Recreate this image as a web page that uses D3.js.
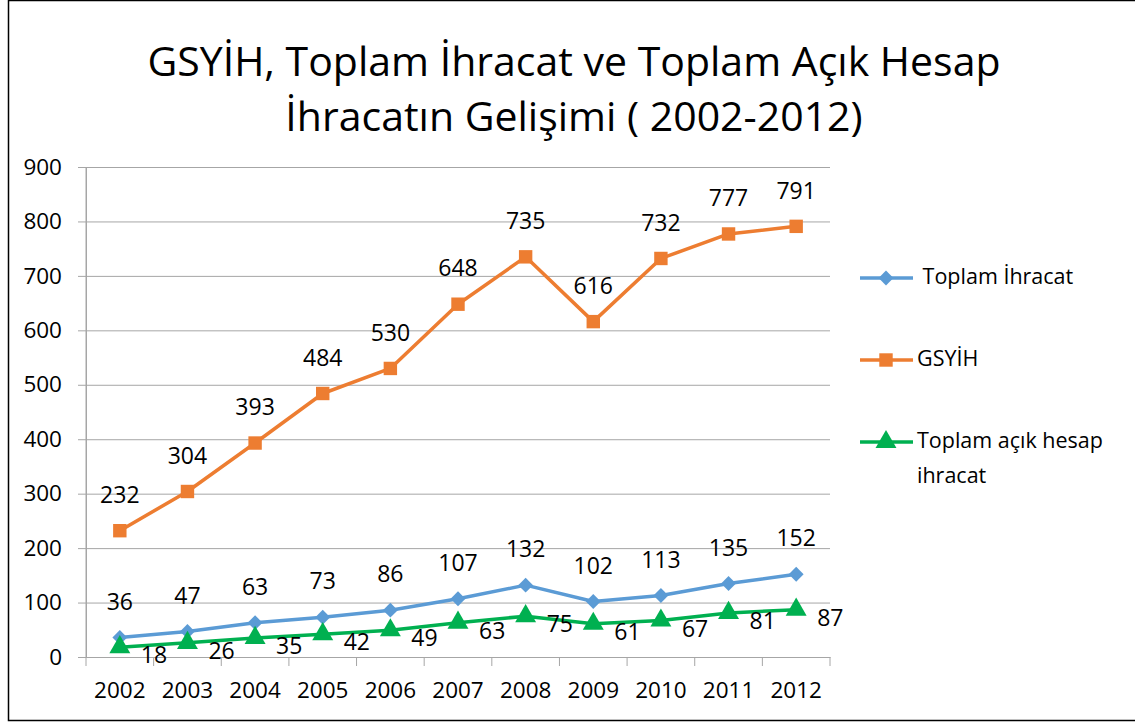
<!DOCTYPE html>
<html>
<head>
<meta charset="utf-8">
<script src="https://cdn.jsdelivr.net/npm/d3@7"></script>
<style>
  body { margin: 0; background: #fff; }
  text { font-family: "Open Sans", "Noto Sans", sans-serif; fill: #000; }
</style>
</head>
<body>
<svg id="chart" width="1135" height="722"></svg>
<script>
// data
let years = ['2002', '2003', '2004', '2005', '2006', '2007', '2008', '2009', '2010', '2011', '2012'];
let ihracat = [36, 47, 63, 73, 86, 107, 132, 102, 113, 135, 152];
let gsyih = [232, 304, 393, 484, 530, 648, 735, 616, 732, 777, 791];
let acikHesap = [18, 26, 35, 42, 49, 63, 75, 61, 67, 81, 87];
let yTicks = [0, 100, 200, 300, 400, 500, 600, 700, 800, 900];
let titleLines = ['GSYİH, Toplam İhracat ve Toplam Açık Hesap', 'İhracatın Gelişimi ( 2002-2012)'];

let svg = d3.select('#chart');
let pad = {t: 167, r: 305, b: 65, l: 86};
let chartW = 1135 - pad.l - pad.r;
let chartH = 722 - pad.t - pad.b;

let xScale = d3.scaleBand().domain(years).range([0, chartW]);
let yScale = d3.scaleLinear().domain([0, 900]).range([chartH, 0]);

// frame
svg.append('rect')
    .attr('x', 8.5).attr('y', 0.5)
    .attr('width', 1135).attr('height', 720)
    .attr('fill', 'none')
    .attr('stroke', '#000')
    .attr('stroke-width', 1.5);

// title
svg.append('g').selectAll('text')
    .data(titleLines)
    .enter().append('text')
    .attr('x', 574)
    .attr('y', (d, i) => 76 + i * 55)
    .attr('text-anchor', 'middle')
    .style('font-size', '41px')
    .text(d => d);

let g = svg.append('g').attr('transform', `translate(${pad.l},${pad.t})`);

// y axis + grid
let yAxis = d3.axisLeft(yScale).tickValues(yTicks).tickSizeInner(-chartW).tickSizeOuter(0).tickPadding(24);
let yG = g.append('g').call(yAxis);
yG.select('.domain').attr('stroke', '#a6a6a6');
yG.selectAll('.tick line').attr('stroke', '#a6a6a6').attr('x1', -8);
yG.selectAll('.tick text').style('font-size', '22.5px').attr('fill', '#000');

// x axis
let xAxis = d3.axisBottom(xScale).tickSizeInner(0).tickSizeOuter(0).tickPadding(25);
let xG = g.append('g').attr('transform', `translate(0,${chartH})`).call(xAxis);
xG.select('.domain').attr('stroke', '#a6a6a6');
xG.selectAll('.tick text').style('font-size', '22.5px').attr('fill', '#000');
// category boundary ticks
xG.selectAll('.bound')
    .data(years.concat(['end']))
    .enter().append('line')
    .attr('x1', (d, i) => i * xScale.bandwidth())
    .attr('x2', (d, i) => i * xScale.bandwidth())
    .attr('y1', 0).attr('y2', 9)
    .attr('stroke', '#a6a6a6');
// left axis line
g.append('line').attr('x1', 0).attr('x2', 0).attr('y1', 0).attr('y2', chartH).attr('stroke', '#a6a6a6');

let cx = d => xScale(d) + xScale.bandwidth() / 2;

let series = [
    {name: ' Toplam İhracat', values: ihracat, color: '#5b9bd5', marker: d3.symbolSquare, size: 110, rot: 45, label: 'above'},
    {name: 'GSYİH', values: gsyih, color: '#ed7d31', marker: d3.symbolSquare, size: 180, rot: 0, label: 'above'},
    {name: 'Toplam açık hesap', name2: 'ihracat', values: acikHesap, color: '#00b050', marker: d3.symbolTriangle, size: 190, rot: 0, label: 'right'}
];

let line = d3.line().x((d, i) => cx(years[i])).y(d => yScale(d));

series.forEach(s => {
    g.append('path')
        .attr('d', line(s.values))
        .attr('fill', 'none')
        .attr('stroke', s.color)
        .attr('stroke-width', 3.5)
        .attr('stroke-linejoin', 'round');
    g.selectAll(null)
        .data(s.values)
        .enter().append('path')
        .attr('d', d3.symbol().type(s.marker).size(s.size))
        .attr('transform', (d, i) => `translate(${cx(years[i])},${yScale(d)}) rotate(${s.rot})`)
        .attr('fill', s.color);
    g.selectAll(null)
        .data(s.values)
        .enter().append('text')
        .attr('x', (d, i) => s.label === 'right' ? cx(years[i]) + 21 : cx(years[i]))
        .attr('y', d => s.label === 'right' ? yScale(d) + 10 : yScale(d) - 34)
        .attr('text-anchor', s.label === 'right' ? 'start' : 'middle')
        .attr('dominant-baseline', 'middle')
        .style('font-size', '23px')
        .text(d => d);
});

// legend
let legend = svg.append('g');
series.forEach((s, i) => {
    let ly = 278 + i * 82;
    legend.append('line')
        .attr('x1', 860).attr('x2', 913)
        .attr('y1', ly).attr('y2', ly)
        .attr('stroke', s.color).attr('stroke-width', 3.5);
    legend.append('path')
        .attr('d', d3.symbol().type(s.marker).size(s.size))
        .attr('transform', `translate(886,${ly}) rotate(${s.rot})`)
        .attr('fill', s.color);
    legend.append('text')
        .attr('x', 917).attr('y', ly)
        .attr('dominant-baseline', 'middle')
        .style('font-size', '21.5px')
        .style('white-space', 'pre')
        .attr('xml:space', 'preserve')
        .text(s.name);
    if (s.name2) {
        legend.append('text')
            .attr('x', 917).attr('y', ly + 35)
            .attr('dominant-baseline', 'middle')
            .style('font-size', '21.5px')
            .text(s.name2);
    }
});
</script>
</body>
</html>
